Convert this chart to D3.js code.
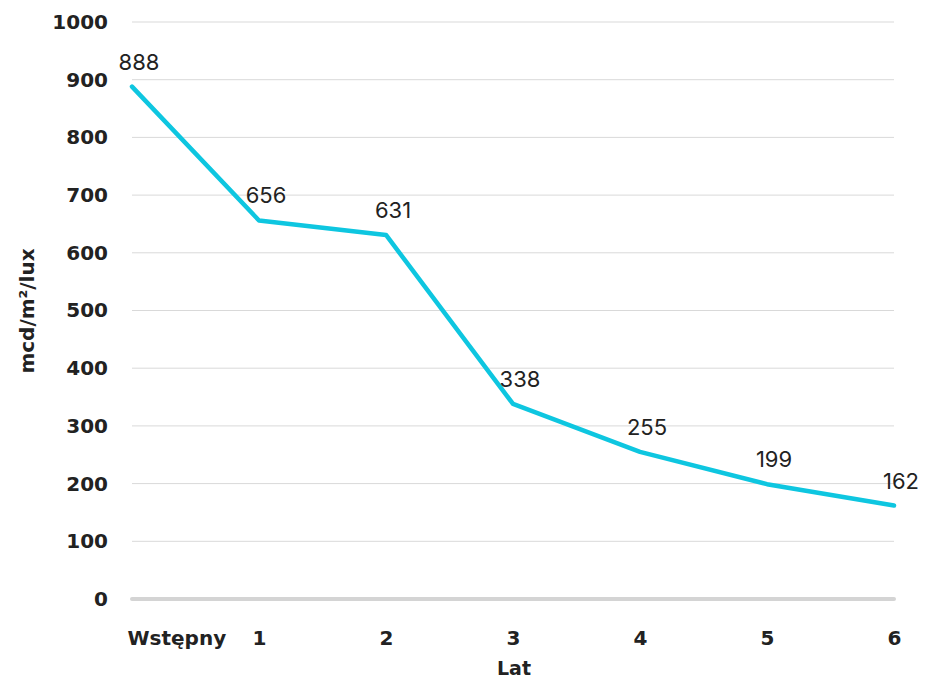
<!DOCTYPE html>
<html>
<head>
<meta charset="utf-8">
<script src="https://cdn.jsdelivr.net/npm/d3@7"></script>
<style>
  body { margin: 0; background: #fff; }
  text { font-family: Inter, "Liberation Sans", sans-serif; fill: #222; }
  .bold { font-family: "DejaVu Sans", sans-serif; font-weight: bold; }
</style>
</head>
<body>
<svg id="canvas" width="925" height="681"></svg>
<script>
// chart data
let years = ['Wstępny', '1', '2', '3', '4', '5', '6'];
let values = [888, 656, 631, 338, 255, 199, 162];
let yTicks = [0, 100, 200, 300, 400, 500, 600, 700, 800, 900, 1000];

let canvas = d3.select('#canvas');

let margin = {left: 132, right: 31, top: 22, bottom: 82};
let width = 925 - margin.left - margin.right;
let height = 681 - margin.top - margin.bottom;

let xScale = d3.scalePoint().domain(years).range([0, width]);
let yScale = d3.scaleLinear().domain([0, 1000]).range([height, 0]);

let g = canvas.append('g')
    .attr('transform', 'translate(' + margin.left + ',' + margin.top + ')');

// gridlines
g.selectAll('.grid')
    .data(yTicks.filter(t => t > 0))
    .enter()
    .append('line')
    .attr('x1', 0)
    .attr('x2', width)
    .attr('y1', d => yScale(d))
    .attr('y2', d => yScale(d))
    .attr('stroke', '#d9d9d9')
    .attr('stroke-width', 1);

// base line
g.append('line')
    .attr('x1', 0)
    .attr('x2', width)
    .attr('y1', yScale(0))
    .attr('y2', yScale(0))
    .attr('stroke', '#d4d4d4')
    .attr('stroke-width', 4)
    .attr('stroke-linecap', 'round');

// y axis
let yAxis = g.append('g')
    .call(d3.axisLeft(yScale).tickValues(yTicks).tickFormat(d3.format('d')).tickSize(0).tickPadding(24));
yAxis.select('.domain').remove();
yAxis.selectAll('text')
    .attr('class', 'bold')
    .style('font-size', '20px')
    .attr('fill', '#222');

// x axis
let xAxis = g.append('g')
    .attr('transform', 'translate(0,' + height + ')')
    .call(d3.axisBottom(xScale).tickSize(0).tickPadding(32));
xAxis.select('.domain').remove();
xAxis.selectAll('text')
    .attr('class', 'bold')
    .style('font-size', '20px')
    .attr('fill', '#222')
    .attr('text-anchor', (d, i) => i === 0 ? 'start' : 'middle')
    .attr('dx', (d, i) => i === 0 ? -5 : 0);

// the line
let line = d3.line()
    .x((d, i) => xScale(years[i]))
    .y(d => yScale(d));

g.append('path')
    .datum(values)
    .attr('d', line)
    .attr('fill', 'none')
    .attr('stroke', '#0ec6e0')
    .attr('stroke-width', 4.5)
    .attr('stroke-linejoin', 'round')
    .attr('stroke-linecap', 'round');

// value labels
g.selectAll('.lbl')
    .data(values)
    .enter()
    .append('text')
    .attr('x', (d, i) => xScale(years[i]) + 7)
    .attr('y', d => yScale(d) - 17)
    .attr('text-anchor', 'middle')
    .style('font-size', '22px')
    .attr('fill', '#222')
    .text(d => d);

// axis titles
canvas.append('text')
    .attr('class', 'bold')
    .attr('x', 514)
    .attr('y', 675)
    .attr('text-anchor', 'middle')
    .style('font-size', '19px')
    .text('Lat');

canvas.append('text')
    .attr('class', 'bold')
    .attr('transform', 'translate(34,' + 311 + ') rotate(-90)')
    .attr('text-anchor', 'middle')
    .style('font-size', '20px')
    .text('mcd/m²/lux');
</script>
</body>
</html>
